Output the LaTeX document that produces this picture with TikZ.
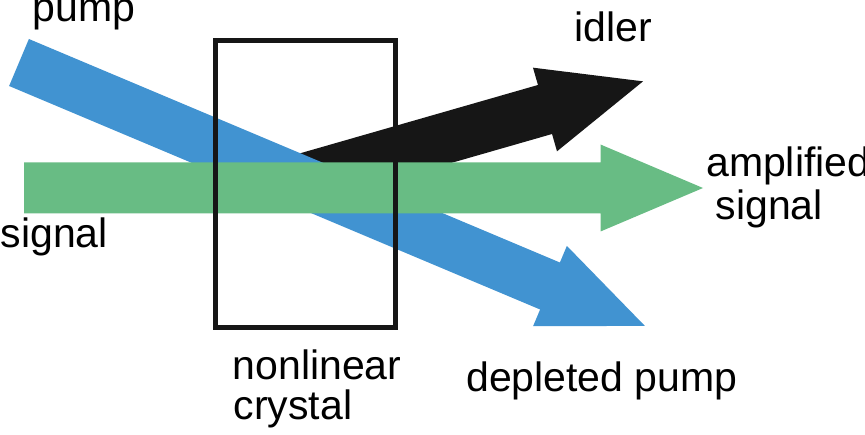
\documentclass[tikz,border=0pt]{standalone}
\usepackage{fontspec}
\setmainfont{Liberation Sans}
\usetikzlibrary{calc}
\definecolor{pumpblue}{HTML}{4193D1}
\definecolor{siggreen}{HTML}{68BC84}
\definecolor{idlerblack}{HTML}{161616}
\begin{document}
\begin{tikzpicture}[x=1pt,y=-1pt,
  lbl/.style={inner sep=0pt,anchor=base west,font=\fontsize{41}{42}\selectfont},
  crystalbox/.style={draw=idlerblack,line width=5pt}]
\useasboundingbox (0,0) rectangle (865,435);
% beam arrow: #1 tail centre, #2 head-base centre, #3 colour, #4 tip length
\newcommand\beamarrow[4]{%
  \fill[#3] ($(#1)!25.5pt!90:(#2)$) -- ($(#2)!25.5pt!-90:(#1)$)
    -- ($(#2)!43.5pt!-90:(#1)$) -- ($(#2)!-#4!(#1)$)
    -- ($(#2)!43.5pt!90:(#1)$) -- ($(#2)!25.5pt!90:(#1)$)
    -- ($(#1)!25.5pt!-90:(#2)$) -- cycle;}
% idler
\coordinate (iT) at (303,179);
\coordinate (iB) at (545,109.5);
\beamarrow{iT}{iB}{idlerblack}{102pt}
% pump
\coordinate (pT) at (19,62.5);
\coordinate (pB) at (550,286);
\beamarrow{pT}{pB}{pumpblue}{103pt}
% signal
\coordinate (sT) at (24,188);
\coordinate (sB) at (600.5,188);
\beamarrow{sT}{sB}{siggreen}{102.5pt}
% crystal
\draw[crystalbox] (215.5,40.5) rectangle (395.5,327.5);
% labels
\node[lbl] (lpump) at (32.5,22) {pump};
\node[lbl] (lidler) at (574.5,42) {idler};
\node[lbl] (lamp) at (706,177) {amplified};
\node[lbl] (lamp2) at (715.5,220) {signal};
\node[lbl] (lsig) at (0.5,248) {signal};
\node[lbl] (lnl) at (232.5,380) {nonlinear};
\node[lbl] (lcr) at (233.5,420) {crystal};
\node[lbl] (ldep) at (466,392) {depleted pump};
\end{tikzpicture}
\end{document}
